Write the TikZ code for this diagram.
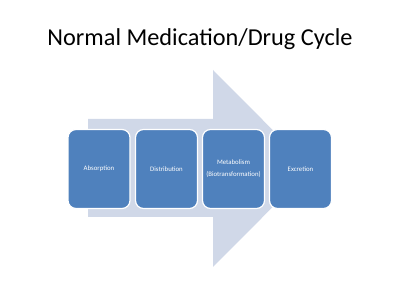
\documentclass[tikz,border=0pt]{standalone}
\usepackage{fontspec}
\setmainfont{Carlito}
\definecolor{arrowfill}{HTML}{D0D8E8}
\definecolor{boxfill}{HTML}{4F81BD}
\begin{document}
\begin{tikzpicture}[x=1pt,y=1pt,
  stagebox/.style={draw=white, line width=1.2pt, fill=boxfill, rounded corners=8pt,
    minimum width=62pt, minimum height=79pt, text=white, font=\fontsize{6.8}{12}\selectfont,
    align=center, inner sep=1pt}]
\useasboundingbox (0,0) rectangle (400,300);
\fill[white] (0,0) rectangle (400,300);
\node[font=\fontsize{24.3}{28}\selectfont] (title) at (200,261) {Normal Medication/Drug Cycle};
\fill[arrowfill] (88,181) -- (213,181) -- (213,230) -- (311,131.5) -- (213,33) -- (213,83) -- (88,83) -- cycle;
\node[stagebox] (a) at (99,131) {Absorption};
\node[stagebox] (b) at (166.5,131) {Distribution};
\node[stagebox] (c) at (233.5,131) {Metabolism\\(Biotransformation)};
\node[stagebox] (d) at (300.5,131) {Excretion};
\end{tikzpicture}
\end{document}
